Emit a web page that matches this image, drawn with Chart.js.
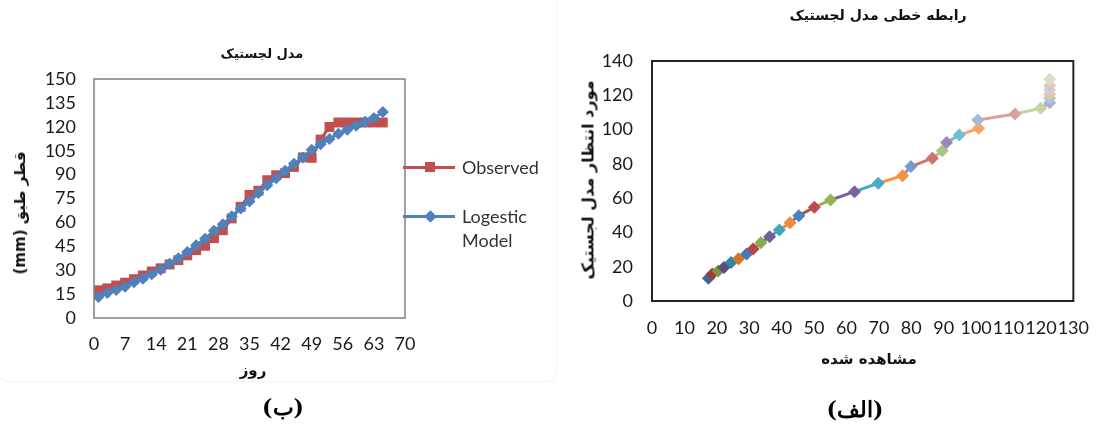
<!DOCTYPE html>
<html><head><meta charset="utf-8">
<script src="https://cdn.jsdelivr.net/npm/chart.js@4.4.0/dist/chart.umd.min.js"></script>
<style>
body{margin:0;background:#fff;width:1105px;height:427px;overflow:hidden;position:relative;font-family:Lato,sans-serif}
.abs{position:absolute;white-space:nowrap}
.ar{font-family:"DejaVu Sans",sans-serif;font-weight:bold;direction:rtl;color:#111}
canvas{position:absolute;top:0}
.lg{position:absolute;font-family:Lato,sans-serif;font-size:18px;color:#333;line-height:24px}
</style></head><body>
<div class="abs" style="left:-2px;top:-20px;width:557px;height:400px;border:1px solid #f3f3f3;border-radius:10px"></div>
<canvas id="left" width="560" height="427" style="left:0"></canvas>
<canvas id="right" width="545" height="427" style="left:560px"></canvas>

<div class="abs ar" style="left:262px;top:53px;transform:translate(-50%,-50%);font-size:13px">مدل لجستیک</div>
<div class="abs ar" style="left:253px;top:370px;transform:translate(-50%,-50%);font-size:15px">روز</div>
<div class="abs ar" style="left:20px;top:213px;transform:translate(-50%,-50%) rotate(-90deg);font-size:15px">قطر طبق (mm)</div>

<div class="abs" style="left:403px;top:165.5px;width:52px;height:3px;background:#C0504D"></div>
<div class="abs" style="left:425px;top:162px;width:10px;height:10px;background:#C0504D"></div>
<div class="lg" style="left:462px;top:155px">Observed</div>
<div class="abs" style="left:403px;top:214.5px;width:52px;height:3px;background:#4F81BD"></div>
<div class="abs" style="left:425.5px;top:211.5px;width:9px;height:9px;background:#4F81BD;transform:rotate(45deg)"></div>
<div class="lg" style="left:462px;top:204px">Logestic<br>Model</div>

<div class="abs ar" style="left:878px;top:15px;transform:translate(-50%,-50%);font-size:14px">رابطه خطی مدل لجستیک</div>
<div class="abs ar" style="left:869px;top:359px;transform:translate(-50%,-50%);font-size:15px">مشاهده شده</div>
<div class="abs ar" style="left:588px;top:180px;transform:translate(-50%,-50%) rotate(-90deg);font-size:16px">مورد انتظار مدل لجستیک</div>

<div class="abs" style="left:283px;top:407px;transform:translate(-50%,-50%);font-size:22px;font-weight:bold;font-family:'DejaVu Serif',serif">(ب)</div>
<div class="abs" style="left:855px;top:409px;transform:translate(-50%,-50%);font-size:22px;font-weight:bold;font-family:'DejaVu Serif',serif">(الف)</div>

<script>
const days = [1,3,5,7,9,11,13,15,17,19,21,23,25,27,29,31,33,35,37,39,41,43,45,47,49,51,53,55,57,59,61,63,65];
const observed = [17.4,18.6,20.4,22.2,24.4,26.7,29.2,31.2,33.6,36.3,39.3,42.6,45.3,50.1,55.1,62.5,69.8,77.3,79.9,86.5,89.6,90.9,94.8,100.8,100.5,112,119.9,122.7,122.7,122.7,122.7,122.7,122.7];
const logisticModel = [13.2,15.7,17.5,19.6,22.4,24.7,27.4,30.3,34,37.5,41.4,45.7,49.8,54.7,58.9,63.8,68.7,73.1,78.4,83.3,87.7,92.4,96.8,100.7,105.6,109.1,112.4,115.7,118.2,120.6,123.1,125.5,129.3];
const seriesNames = ['Observed','Logestic Model'];
const pointColors = ['#3A679E','#9E3B38','#7A983E','#5F4A80','#33869D','#D6742C',
  '#4678B8','#B84542','#8AAB4E','#76609A','#44A4BE','#EE8A3E',
  '#4A7EBF','#BE4B48','#93B555','#7D62A0','#48AAC5','#F69240',
  '#7A9AC9','#CC7470','#ADC67F','#9C88B6','#72BED3','#F8A463',
  '#A5B8DA','#D8A2A0','#C3D6A2','#B6A9CB','#9ACEDD','#F9BE92',
  '#C4D0E6','#E5C2C1','#D4E2C3'];

const boxPlugin = {
  id:'box',
  afterDraw(chart, args, opts){
    const a = chart.chartArea, c = chart.ctx;
    c.save(); c.strokeStyle = opts.color; c.lineWidth = opts.width;
    c.strokeRect(a.left, a.top, a.right - a.left, a.bottom - a.top);
    c.restore();
  }
};
Chart.register(boxPlugin);

const tickFont = {family:'Lato', size:18};
function axis(min,max,step,w,h,pad){
  return {
    type:'linear', min:min, max:max,
    ticks:{stepSize:step, font:tickFont, color:'#1a1a1a', padding:pad, maxRotation:0, minRotation:0, autoSkip:false},
    grid:{display:false, drawTicks:false},
    border:{display:false},
    afterFit(s){ if(w!==null) s.width = w; if(h!==null) s.height = h; }
  };
}

new Chart(document.getElementById('left'), {
  type:'scatter',
  data:{datasets:[
    {label:seriesNames[0], data:days.map((d,i)=>({x:d,y:observed[i]})), showLine:true,
     borderColor:'#C0504D', backgroundColor:'#C0504D', borderWidth:3,
     pointStyle:'rect', pointRadius:7, pointBorderWidth:0, order:1},
    {label:seriesNames[1], data:days.map((d,i)=>({x:d,y:logisticModel[i]})), showLine:true,
     borderColor:'#4F81BD', backgroundColor:'#4F81BD', borderWidth:3,
     pointStyle:'rectRot', pointRadius:6, pointBorderWidth:0, order:0}
  ]},
  options:{
    responsive:false, animation:false, devicePixelRatio:1,
    layout:{padding:{left:0, top:79, right:155, bottom:69}},
    plugins:{legend:{display:false}, tooltip:{enabled:false}, box:{color:'#808080', width:1.5}},
    scales:{
      x: axis(0,70,7,null,40,15),
      y: axis(0,150,15,94,null,18)
    }
  }
});

new Chart(document.getElementById('right'), {
  type:'scatter',
  data:{datasets:[
    {label:'rel', data:observed.map((o,i)=>({x:o,y:logisticModel[i]})), showLine:true,
     borderWidth:3, borderColor:pointColors[0],
     segment:{borderColor: ctx => pointColors[ctx.p1DataIndex]},
     pointStyle:'rectRot', pointRadius:6.5, pointBorderWidth:0,
     pointBackgroundColor:pointColors}
  ]},
  options:{
    responsive:false, animation:false, devicePixelRatio:1,
    layout:{padding:{left:0, top:61, right:19, bottom:86}},
    plugins:{legend:{display:false}, tooltip:{enabled:false}, box:{color:'#222', width:2}},
    scales:{
      x: axis(0,130,10,null,40,16),
      y: axis(0,140,20,92,null,19)
    }
  }
});
</script>
</body></html>
